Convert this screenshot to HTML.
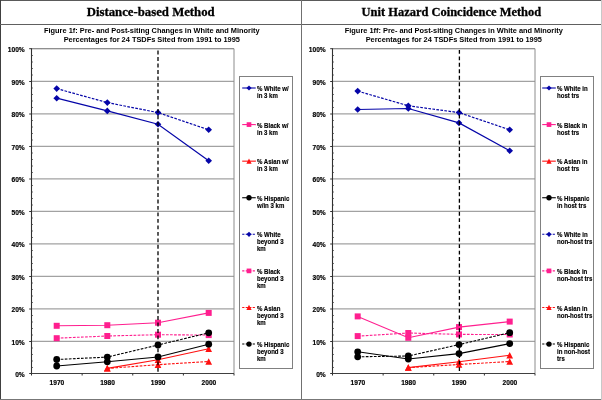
<!DOCTYPE html>
<html><head><meta charset="utf-8"><style>
html,body{margin:0;padding:0;background:#fff;}
svg{display:block;will-change:transform;}
.ti{font-family:"Liberation Serif",serif;font-weight:bold;font-size:12.8px;fill:#000;stroke:#000;stroke-width:0.3px;}
.ct{font-family:"Liberation Sans",sans-serif;font-weight:bold;font-size:7.4px;fill:#000;}
.ax{font-family:"Liberation Sans",sans-serif;font-weight:bold;font-size:6.9px;fill:#000;stroke:#000;stroke-width:0.18px;}
.lg{font-family:"Liberation Sans",sans-serif;font-weight:bold;font-size:6.6px;fill:#000;stroke:#000;stroke-width:0.15px;}
</style></head><body>
<svg width="602" height="400" viewBox="0 0 602 400">
<rect width="602" height="400" fill="#fff"/>

<text x="150.7" y="16" text-anchor="middle" class="ti" textLength="128" lengthAdjust="spacingAndGlyphs">Distance-based Method</text>
<text x="451.4" y="16" text-anchor="middle" class="ti" textLength="179.6" lengthAdjust="spacingAndGlyphs">Unit Hazard Coincidence Method</text>

<line x1="31.5" y1="341.40" x2="234.0" y2="341.40" stroke="#a2a2a2" stroke-width="1.35"/>
<line x1="31.5" y1="308.90" x2="234.0" y2="308.90" stroke="#a2a2a2" stroke-width="1.35"/>
<line x1="31.5" y1="276.40" x2="234.0" y2="276.40" stroke="#a2a2a2" stroke-width="1.35"/>
<line x1="31.5" y1="243.90" x2="234.0" y2="243.90" stroke="#a2a2a2" stroke-width="1.35"/>
<line x1="31.5" y1="211.40" x2="234.0" y2="211.40" stroke="#a2a2a2" stroke-width="1.35"/>
<line x1="31.5" y1="178.90" x2="234.0" y2="178.90" stroke="#a2a2a2" stroke-width="1.35"/>
<line x1="31.5" y1="146.40" x2="234.0" y2="146.40" stroke="#a2a2a2" stroke-width="1.35"/>
<line x1="31.5" y1="113.90" x2="234.0" y2="113.90" stroke="#a2a2a2" stroke-width="1.35"/>
<line x1="31.5" y1="81.40" x2="234.0" y2="81.40" stroke="#a2a2a2" stroke-width="1.35"/>
<line x1="31.5" y1="48.7" x2="234.0" y2="48.7" stroke="#6a6a6a" stroke-width="1.1"/>
<line x1="234.0" y1="48.7" x2="234.0" y2="373.5" stroke="#8c8c8c" stroke-width="1"/>
<line x1="31.5" y1="48.2" x2="31.5" y2="374.0" stroke="#303030" stroke-width="1.1"/>
<line x1="29.2" y1="373.5" x2="31.5" y2="373.5" stroke="#303030" stroke-width="1"/>
<line x1="29.2" y1="341.5" x2="31.5" y2="341.5" stroke="#303030" stroke-width="1"/>
<line x1="29.2" y1="309.0" x2="31.5" y2="309.0" stroke="#303030" stroke-width="1"/>
<line x1="29.2" y1="276.5" x2="31.5" y2="276.5" stroke="#303030" stroke-width="1"/>
<line x1="29.2" y1="244.0" x2="31.5" y2="244.0" stroke="#303030" stroke-width="1"/>
<line x1="29.2" y1="211.5" x2="31.5" y2="211.5" stroke="#303030" stroke-width="1"/>
<line x1="29.2" y1="179.0" x2="31.5" y2="179.0" stroke="#303030" stroke-width="1"/>
<line x1="29.2" y1="146.5" x2="31.5" y2="146.5" stroke="#303030" stroke-width="1"/>
<line x1="29.2" y1="114.0" x2="31.5" y2="114.0" stroke="#303030" stroke-width="1"/>
<line x1="29.2" y1="81.5" x2="31.5" y2="81.5" stroke="#303030" stroke-width="1"/>
<line x1="29.2" y1="48.7" x2="31.5" y2="48.7" stroke="#303030" stroke-width="1"/>
<line x1="31.5" y1="367.5" x2="32.8" y2="367.5" stroke="#404040" stroke-width="0.9"/>
<line x1="31.5" y1="361.0" x2="32.8" y2="361.0" stroke="#404040" stroke-width="0.9"/>
<line x1="31.5" y1="354.5" x2="32.8" y2="354.5" stroke="#404040" stroke-width="0.9"/>
<line x1="31.5" y1="348.0" x2="32.8" y2="348.0" stroke="#404040" stroke-width="0.9"/>
<line x1="31.5" y1="335.0" x2="32.8" y2="335.0" stroke="#404040" stroke-width="0.9"/>
<line x1="31.5" y1="328.5" x2="32.8" y2="328.5" stroke="#404040" stroke-width="0.9"/>
<line x1="31.5" y1="322.0" x2="32.8" y2="322.0" stroke="#404040" stroke-width="0.9"/>
<line x1="31.5" y1="315.5" x2="32.8" y2="315.5" stroke="#404040" stroke-width="0.9"/>
<line x1="31.5" y1="302.5" x2="32.8" y2="302.5" stroke="#404040" stroke-width="0.9"/>
<line x1="31.5" y1="296.0" x2="32.8" y2="296.0" stroke="#404040" stroke-width="0.9"/>
<line x1="31.5" y1="289.5" x2="32.8" y2="289.5" stroke="#404040" stroke-width="0.9"/>
<line x1="31.5" y1="283.0" x2="32.8" y2="283.0" stroke="#404040" stroke-width="0.9"/>
<line x1="31.5" y1="270.0" x2="32.8" y2="270.0" stroke="#404040" stroke-width="0.9"/>
<line x1="31.5" y1="263.5" x2="32.8" y2="263.5" stroke="#404040" stroke-width="0.9"/>
<line x1="31.5" y1="257.0" x2="32.8" y2="257.0" stroke="#404040" stroke-width="0.9"/>
<line x1="31.5" y1="250.5" x2="32.8" y2="250.5" stroke="#404040" stroke-width="0.9"/>
<line x1="31.5" y1="237.5" x2="32.8" y2="237.5" stroke="#404040" stroke-width="0.9"/>
<line x1="31.5" y1="231.0" x2="32.8" y2="231.0" stroke="#404040" stroke-width="0.9"/>
<line x1="31.5" y1="224.5" x2="32.8" y2="224.5" stroke="#404040" stroke-width="0.9"/>
<line x1="31.5" y1="218.0" x2="32.8" y2="218.0" stroke="#404040" stroke-width="0.9"/>
<line x1="31.5" y1="205.0" x2="32.8" y2="205.0" stroke="#404040" stroke-width="0.9"/>
<line x1="31.5" y1="198.5" x2="32.8" y2="198.5" stroke="#404040" stroke-width="0.9"/>
<line x1="31.5" y1="192.0" x2="32.8" y2="192.0" stroke="#404040" stroke-width="0.9"/>
<line x1="31.5" y1="185.5" x2="32.8" y2="185.5" stroke="#404040" stroke-width="0.9"/>
<line x1="31.5" y1="172.5" x2="32.8" y2="172.5" stroke="#404040" stroke-width="0.9"/>
<line x1="31.5" y1="166.0" x2="32.8" y2="166.0" stroke="#404040" stroke-width="0.9"/>
<line x1="31.5" y1="159.5" x2="32.8" y2="159.5" stroke="#404040" stroke-width="0.9"/>
<line x1="31.5" y1="153.0" x2="32.8" y2="153.0" stroke="#404040" stroke-width="0.9"/>
<line x1="31.5" y1="140.0" x2="32.8" y2="140.0" stroke="#404040" stroke-width="0.9"/>
<line x1="31.5" y1="133.5" x2="32.8" y2="133.5" stroke="#404040" stroke-width="0.9"/>
<line x1="31.5" y1="127.0" x2="32.8" y2="127.0" stroke="#404040" stroke-width="0.9"/>
<line x1="31.5" y1="120.5" x2="32.8" y2="120.5" stroke="#404040" stroke-width="0.9"/>
<line x1="31.5" y1="107.5" x2="32.8" y2="107.5" stroke="#404040" stroke-width="0.9"/>
<line x1="31.5" y1="101.0" x2="32.8" y2="101.0" stroke="#404040" stroke-width="0.9"/>
<line x1="31.5" y1="94.5" x2="32.8" y2="94.5" stroke="#404040" stroke-width="0.9"/>
<line x1="31.5" y1="88.0" x2="32.8" y2="88.0" stroke="#404040" stroke-width="0.9"/>
<line x1="31.5" y1="75.0" x2="32.8" y2="75.0" stroke="#404040" stroke-width="0.9"/>
<line x1="31.5" y1="68.5" x2="32.8" y2="68.5" stroke="#404040" stroke-width="0.9"/>
<line x1="31.5" y1="62.0" x2="32.8" y2="62.0" stroke="#404040" stroke-width="0.9"/>
<line x1="31.5" y1="55.5" x2="32.8" y2="55.5" stroke="#404040" stroke-width="0.9"/>
<line x1="31.0" y1="373.5" x2="234.0" y2="373.5" stroke="#404040" stroke-width="1.0"/>
<line x1="31.5" y1="373.5" x2="31.5" y2="375.5" stroke="#303030" stroke-width="1"/>
<line x1="82.125" y1="373.5" x2="82.125" y2="375.5" stroke="#303030" stroke-width="1"/>
<line x1="132.75" y1="373.5" x2="132.75" y2="375.5" stroke="#303030" stroke-width="1"/>
<line x1="183.375" y1="373.5" x2="183.375" y2="375.5" stroke="#303030" stroke-width="1"/>
<line x1="234.0" y1="373.5" x2="234.0" y2="375.5" stroke="#303030" stroke-width="1"/>
<text transform="translate(24.7 377.00) scale(0.96 1)" text-anchor="end" class="ax">0%</text>
<text transform="translate(24.7 344.50) scale(0.96 1)" text-anchor="end" class="ax">10%</text>
<text transform="translate(24.7 312.00) scale(0.96 1)" text-anchor="end" class="ax">20%</text>
<text transform="translate(24.7 279.50) scale(0.96 1)" text-anchor="end" class="ax">30%</text>
<text transform="translate(24.7 247.00) scale(0.96 1)" text-anchor="end" class="ax">40%</text>
<text transform="translate(24.7 214.50) scale(0.96 1)" text-anchor="end" class="ax">50%</text>
<text transform="translate(24.7 182.00) scale(0.96 1)" text-anchor="end" class="ax">60%</text>
<text transform="translate(24.7 149.50) scale(0.96 1)" text-anchor="end" class="ax">70%</text>
<text transform="translate(24.7 117.00) scale(0.96 1)" text-anchor="end" class="ax">80%</text>
<text transform="translate(24.7 84.50) scale(0.96 1)" text-anchor="end" class="ax">90%</text>
<text transform="translate(24.7 52.00) scale(0.96 1)" text-anchor="end" class="ax">100%</text>
<text transform="translate(56.900000000000006 385.0) scale(0.96 1)" text-anchor="middle" class="ax">1970</text>
<text transform="translate(107.5 385.0) scale(0.96 1)" text-anchor="middle" class="ax">1980</text>
<text transform="translate(158.2 385.0) scale(0.96 1)" text-anchor="middle" class="ax">1990</text>
<text transform="translate(208.89999999999998 385.0) scale(0.96 1)" text-anchor="middle" class="ax">2000</text>
<path d="M56.70 98.20 L107.30 110.90 L158.00 124.20 L208.70 160.70" fill="none" stroke="#0505a8" stroke-width="1.2"/>
<path d="M56.70 94.90L60.00 98.20L56.70 101.50L53.40 98.20Z" fill="#0505a8"/>
<path d="M107.30 107.60L110.60 110.90L107.30 114.20L104.00 110.90Z" fill="#0505a8"/>
<path d="M158.00 120.90L161.30 124.20L158.00 127.50L154.70 124.20Z" fill="#0505a8"/>
<path d="M208.70 157.40L212.00 160.70L208.70 164.00L205.40 160.70Z" fill="#0505a8"/>
<path d="M56.70 325.80 L107.30 325.20 L158.00 322.70 L208.70 312.90" fill="none" stroke="#ff1f8f" stroke-width="1.1"/>
<rect x="53.70" y="322.80" width="6.00" height="6.00" fill="#ff1f8f"/>
<rect x="104.30" y="322.20" width="6.00" height="6.00" fill="#ff1f8f"/>
<rect x="155.00" y="319.70" width="6.00" height="6.00" fill="#ff1f8f"/>
<rect x="205.70" y="309.90" width="6.00" height="6.00" fill="#ff1f8f"/>
<path d="M107.30 368.40 L158.00 359.80 L208.70 348.80" fill="none" stroke="#ff1010" stroke-width="1.1"/>
<path d="M107.30 365.05L110.65 371.58L103.95 371.58Z" fill="#ff1010"/>
<path d="M158.00 356.45L161.35 362.98L154.65 362.98Z" fill="#ff1010"/>
<path d="M208.70 345.45L212.05 351.98L205.35 351.98Z" fill="#ff1010"/>
<path d="M56.70 366.00 L107.30 361.80 L158.00 357.00 L208.70 344.20" fill="none" stroke="#000000" stroke-width="1.1"/>
<circle cx="56.70" cy="366.00" r="3.40" fill="#000000"/>
<circle cx="107.30" cy="361.80" r="3.40" fill="#000000"/>
<circle cx="158.00" cy="357.00" r="3.40" fill="#000000"/>
<circle cx="208.70" cy="344.20" r="3.40" fill="#000000"/>
<path d="M56.70 88.60 L107.30 102.60 L158.00 112.60 L208.70 129.80" fill="none" stroke="#0505a8" stroke-width="1.2" stroke-dasharray="2.7,1.35"/>
<path d="M56.70 85.30L60.00 88.60L56.70 91.90L53.40 88.60Z" fill="#0505a8"/>
<path d="M107.30 99.30L110.60 102.60L107.30 105.90L104.00 102.60Z" fill="#0505a8"/>
<path d="M158.00 109.30L161.30 112.60L158.00 115.90L154.70 112.60Z" fill="#0505a8"/>
<path d="M208.70 126.50L212.00 129.80L208.70 133.10L205.40 129.80Z" fill="#0505a8"/>
<path d="M56.70 338.20 L107.30 336.00 L158.00 334.70 L208.70 335.10" fill="none" stroke="#ff1f8f" stroke-width="1.1" stroke-dasharray="2.7,1.35"/>
<rect x="53.70" y="335.20" width="6.00" height="6.00" fill="#ff1f8f"/>
<rect x="104.30" y="333.00" width="6.00" height="6.00" fill="#ff1f8f"/>
<rect x="155.00" y="331.70" width="6.00" height="6.00" fill="#ff1f8f"/>
<rect x="205.70" y="332.10" width="6.00" height="6.00" fill="#ff1f8f"/>
<path d="M107.30 368.40 L158.00 364.70 L208.70 361.50" fill="none" stroke="#ff1010" stroke-width="1.1" stroke-dasharray="2.7,1.35"/>
<path d="M107.30 365.05L110.65 371.58L103.95 371.58Z" fill="#ff1010"/>
<path d="M158.00 361.35L161.35 367.88L154.65 367.88Z" fill="#ff1010"/>
<path d="M208.70 358.15L212.05 364.68L205.35 364.68Z" fill="#ff1010"/>
<path d="M56.70 359.50 L107.30 357.10 L158.00 345.00 L208.70 332.80" fill="none" stroke="#000000" stroke-width="1.1" stroke-dasharray="2.7,1.35"/>
<circle cx="56.70" cy="359.50" r="3.40" fill="#000000"/>
<circle cx="107.30" cy="357.10" r="3.40" fill="#000000"/>
<circle cx="158.00" cy="345.00" r="3.40" fill="#000000"/>
<circle cx="208.70" cy="332.80" r="3.40" fill="#000000"/>
<line x1="158.0" y1="50.6" x2="158.0" y2="372" stroke="#000" stroke-width="1.3" stroke-dasharray="3.85,2.625"/>
<text x="151.8" y="32.8" text-anchor="middle" class="ct">Figure 1f: Pre- and Post-siting Changes in White and Minority</text>
<text x="151.8" y="41.6" text-anchor="middle" class="ct">Percentages for 24 TSDFs Sited from 1991 to 1995</text>
<rect x="239.5" y="76.5" width="53.0" height="292.0" fill="none" stroke="#808080" stroke-width="1"/>
<line x1="242.2" y1="88.0" x2="255.8" y2="88.0" stroke="#0505a8" stroke-width="1.1"/>
<path d="M249.00 85.43L251.57 88.00L249.00 90.57L246.43 88.00Z" fill="#0505a8"/>
<text transform="translate(257 91.05) scale(0.92 1)" class="lg">% White w/</text>
<text transform="translate(257 98.05) scale(0.92 1)" class="lg">in 3 km</text>
<line x1="242.2" y1="124.58" x2="255.8" y2="124.58" stroke="#ff1f8f" stroke-width="1.1"/>
<rect x="246.66" y="122.24" width="4.68" height="4.68" fill="#ff1f8f"/>
<text transform="translate(257 127.63) scale(0.92 1)" class="lg">% Black w/</text>
<text transform="translate(257 134.63) scale(0.92 1)" class="lg">in 3 km</text>
<line x1="242.2" y1="161.16" x2="255.8" y2="161.16" stroke="#ff1010" stroke-width="1.1"/>
<path d="M249.00 158.55L251.61 163.64L246.39 163.64Z" fill="#ff1010"/>
<text transform="translate(257 164.21) scale(0.92 1)" class="lg">% Asian w/</text>
<text transform="translate(257 171.21) scale(0.92 1)" class="lg">in 3 km</text>
<line x1="242.2" y1="197.74" x2="255.8" y2="197.74" stroke="#000000" stroke-width="1.1"/>
<circle cx="249.00" cy="197.74" r="2.65" fill="#000000"/>
<text transform="translate(257 200.79) scale(0.92 1)" class="lg">% Hispanic</text>
<text transform="translate(257 207.79) scale(0.92 1)" class="lg">w/in 3 km</text>
<line x1="242.2" y1="234.32" x2="255.8" y2="234.32" stroke="#0505a8" stroke-width="1.1" stroke-dasharray="2.2,1.3"/>
<path d="M249.00 231.75L251.57 234.32L249.00 236.89L246.43 234.32Z" fill="#0505a8"/>
<text transform="translate(257 237.37) scale(0.92 1)" class="lg">% White</text>
<text transform="translate(257 244.37) scale(0.92 1)" class="lg">beyond 3</text>
<text transform="translate(257 251.37) scale(0.92 1)" class="lg">km</text>
<line x1="242.2" y1="270.9" x2="255.8" y2="270.9" stroke="#ff1f8f" stroke-width="1.1" stroke-dasharray="2.2,1.3"/>
<rect x="246.66" y="268.56" width="4.68" height="4.68" fill="#ff1f8f"/>
<text transform="translate(257 273.95) scale(0.92 1)" class="lg">% Black</text>
<text transform="translate(257 280.95) scale(0.92 1)" class="lg">beyond 3</text>
<text transform="translate(257 287.95) scale(0.92 1)" class="lg">km</text>
<line x1="242.2" y1="307.48" x2="255.8" y2="307.48" stroke="#ff1010" stroke-width="1.1" stroke-dasharray="2.2,1.3"/>
<path d="M249.00 304.87L251.61 309.96L246.39 309.96Z" fill="#ff1010"/>
<text transform="translate(257 310.53) scale(0.92 1)" class="lg">% Asian</text>
<text transform="translate(257 317.53) scale(0.92 1)" class="lg">beyond 3</text>
<text transform="translate(257 324.53) scale(0.92 1)" class="lg">km</text>
<line x1="242.2" y1="344.06" x2="255.8" y2="344.06" stroke="#000000" stroke-width="1.1" stroke-dasharray="2.2,1.3"/>
<circle cx="249.00" cy="344.06" r="2.65" fill="#000000"/>
<text transform="translate(257 347.11) scale(0.92 1)" class="lg">% Hispanic</text>
<text transform="translate(257 354.11) scale(0.92 1)" class="lg">beyond 3</text>
<text transform="translate(257 361.11) scale(0.92 1)" class="lg">km</text><line x1="332.5" y1="341.40" x2="535.0" y2="341.40" stroke="#a2a2a2" stroke-width="1.35"/>
<line x1="332.5" y1="308.90" x2="535.0" y2="308.90" stroke="#a2a2a2" stroke-width="1.35"/>
<line x1="332.5" y1="276.40" x2="535.0" y2="276.40" stroke="#a2a2a2" stroke-width="1.35"/>
<line x1="332.5" y1="243.90" x2="535.0" y2="243.90" stroke="#a2a2a2" stroke-width="1.35"/>
<line x1="332.5" y1="211.40" x2="535.0" y2="211.40" stroke="#a2a2a2" stroke-width="1.35"/>
<line x1="332.5" y1="178.90" x2="535.0" y2="178.90" stroke="#a2a2a2" stroke-width="1.35"/>
<line x1="332.5" y1="146.40" x2="535.0" y2="146.40" stroke="#a2a2a2" stroke-width="1.35"/>
<line x1="332.5" y1="113.90" x2="535.0" y2="113.90" stroke="#a2a2a2" stroke-width="1.35"/>
<line x1="332.5" y1="81.40" x2="535.0" y2="81.40" stroke="#a2a2a2" stroke-width="1.35"/>
<line x1="332.5" y1="48.7" x2="535.0" y2="48.7" stroke="#6a6a6a" stroke-width="1.1"/>
<line x1="535.0" y1="48.7" x2="535.0" y2="373.5" stroke="#8c8c8c" stroke-width="1"/>
<line x1="332.5" y1="48.2" x2="332.5" y2="374.0" stroke="#303030" stroke-width="1.1"/>
<line x1="330.2" y1="373.5" x2="332.5" y2="373.5" stroke="#303030" stroke-width="1"/>
<line x1="330.2" y1="341.5" x2="332.5" y2="341.5" stroke="#303030" stroke-width="1"/>
<line x1="330.2" y1="309.0" x2="332.5" y2="309.0" stroke="#303030" stroke-width="1"/>
<line x1="330.2" y1="276.5" x2="332.5" y2="276.5" stroke="#303030" stroke-width="1"/>
<line x1="330.2" y1="244.0" x2="332.5" y2="244.0" stroke="#303030" stroke-width="1"/>
<line x1="330.2" y1="211.5" x2="332.5" y2="211.5" stroke="#303030" stroke-width="1"/>
<line x1="330.2" y1="179.0" x2="332.5" y2="179.0" stroke="#303030" stroke-width="1"/>
<line x1="330.2" y1="146.5" x2="332.5" y2="146.5" stroke="#303030" stroke-width="1"/>
<line x1="330.2" y1="114.0" x2="332.5" y2="114.0" stroke="#303030" stroke-width="1"/>
<line x1="330.2" y1="81.5" x2="332.5" y2="81.5" stroke="#303030" stroke-width="1"/>
<line x1="330.2" y1="48.7" x2="332.5" y2="48.7" stroke="#303030" stroke-width="1"/>
<line x1="332.5" y1="367.5" x2="333.8" y2="367.5" stroke="#404040" stroke-width="0.9"/>
<line x1="332.5" y1="361.0" x2="333.8" y2="361.0" stroke="#404040" stroke-width="0.9"/>
<line x1="332.5" y1="354.5" x2="333.8" y2="354.5" stroke="#404040" stroke-width="0.9"/>
<line x1="332.5" y1="348.0" x2="333.8" y2="348.0" stroke="#404040" stroke-width="0.9"/>
<line x1="332.5" y1="335.0" x2="333.8" y2="335.0" stroke="#404040" stroke-width="0.9"/>
<line x1="332.5" y1="328.5" x2="333.8" y2="328.5" stroke="#404040" stroke-width="0.9"/>
<line x1="332.5" y1="322.0" x2="333.8" y2="322.0" stroke="#404040" stroke-width="0.9"/>
<line x1="332.5" y1="315.5" x2="333.8" y2="315.5" stroke="#404040" stroke-width="0.9"/>
<line x1="332.5" y1="302.5" x2="333.8" y2="302.5" stroke="#404040" stroke-width="0.9"/>
<line x1="332.5" y1="296.0" x2="333.8" y2="296.0" stroke="#404040" stroke-width="0.9"/>
<line x1="332.5" y1="289.5" x2="333.8" y2="289.5" stroke="#404040" stroke-width="0.9"/>
<line x1="332.5" y1="283.0" x2="333.8" y2="283.0" stroke="#404040" stroke-width="0.9"/>
<line x1="332.5" y1="270.0" x2="333.8" y2="270.0" stroke="#404040" stroke-width="0.9"/>
<line x1="332.5" y1="263.5" x2="333.8" y2="263.5" stroke="#404040" stroke-width="0.9"/>
<line x1="332.5" y1="257.0" x2="333.8" y2="257.0" stroke="#404040" stroke-width="0.9"/>
<line x1="332.5" y1="250.5" x2="333.8" y2="250.5" stroke="#404040" stroke-width="0.9"/>
<line x1="332.5" y1="237.5" x2="333.8" y2="237.5" stroke="#404040" stroke-width="0.9"/>
<line x1="332.5" y1="231.0" x2="333.8" y2="231.0" stroke="#404040" stroke-width="0.9"/>
<line x1="332.5" y1="224.5" x2="333.8" y2="224.5" stroke="#404040" stroke-width="0.9"/>
<line x1="332.5" y1="218.0" x2="333.8" y2="218.0" stroke="#404040" stroke-width="0.9"/>
<line x1="332.5" y1="205.0" x2="333.8" y2="205.0" stroke="#404040" stroke-width="0.9"/>
<line x1="332.5" y1="198.5" x2="333.8" y2="198.5" stroke="#404040" stroke-width="0.9"/>
<line x1="332.5" y1="192.0" x2="333.8" y2="192.0" stroke="#404040" stroke-width="0.9"/>
<line x1="332.5" y1="185.5" x2="333.8" y2="185.5" stroke="#404040" stroke-width="0.9"/>
<line x1="332.5" y1="172.5" x2="333.8" y2="172.5" stroke="#404040" stroke-width="0.9"/>
<line x1="332.5" y1="166.0" x2="333.8" y2="166.0" stroke="#404040" stroke-width="0.9"/>
<line x1="332.5" y1="159.5" x2="333.8" y2="159.5" stroke="#404040" stroke-width="0.9"/>
<line x1="332.5" y1="153.0" x2="333.8" y2="153.0" stroke="#404040" stroke-width="0.9"/>
<line x1="332.5" y1="140.0" x2="333.8" y2="140.0" stroke="#404040" stroke-width="0.9"/>
<line x1="332.5" y1="133.5" x2="333.8" y2="133.5" stroke="#404040" stroke-width="0.9"/>
<line x1="332.5" y1="127.0" x2="333.8" y2="127.0" stroke="#404040" stroke-width="0.9"/>
<line x1="332.5" y1="120.5" x2="333.8" y2="120.5" stroke="#404040" stroke-width="0.9"/>
<line x1="332.5" y1="107.5" x2="333.8" y2="107.5" stroke="#404040" stroke-width="0.9"/>
<line x1="332.5" y1="101.0" x2="333.8" y2="101.0" stroke="#404040" stroke-width="0.9"/>
<line x1="332.5" y1="94.5" x2="333.8" y2="94.5" stroke="#404040" stroke-width="0.9"/>
<line x1="332.5" y1="88.0" x2="333.8" y2="88.0" stroke="#404040" stroke-width="0.9"/>
<line x1="332.5" y1="75.0" x2="333.8" y2="75.0" stroke="#404040" stroke-width="0.9"/>
<line x1="332.5" y1="68.5" x2="333.8" y2="68.5" stroke="#404040" stroke-width="0.9"/>
<line x1="332.5" y1="62.0" x2="333.8" y2="62.0" stroke="#404040" stroke-width="0.9"/>
<line x1="332.5" y1="55.5" x2="333.8" y2="55.5" stroke="#404040" stroke-width="0.9"/>
<line x1="332.0" y1="373.5" x2="535.0" y2="373.5" stroke="#404040" stroke-width="1.0"/>
<line x1="332.5" y1="373.5" x2="332.5" y2="375.5" stroke="#303030" stroke-width="1"/>
<line x1="383.125" y1="373.5" x2="383.125" y2="375.5" stroke="#303030" stroke-width="1"/>
<line x1="433.75" y1="373.5" x2="433.75" y2="375.5" stroke="#303030" stroke-width="1"/>
<line x1="484.375" y1="373.5" x2="484.375" y2="375.5" stroke="#303030" stroke-width="1"/>
<line x1="535.0" y1="373.5" x2="535.0" y2="375.5" stroke="#303030" stroke-width="1"/>
<text transform="translate(325.7 377.00) scale(0.96 1)" text-anchor="end" class="ax">0%</text>
<text transform="translate(325.7 344.50) scale(0.96 1)" text-anchor="end" class="ax">10%</text>
<text transform="translate(325.7 312.00) scale(0.96 1)" text-anchor="end" class="ax">20%</text>
<text transform="translate(325.7 279.50) scale(0.96 1)" text-anchor="end" class="ax">30%</text>
<text transform="translate(325.7 247.00) scale(0.96 1)" text-anchor="end" class="ax">40%</text>
<text transform="translate(325.7 214.50) scale(0.96 1)" text-anchor="end" class="ax">50%</text>
<text transform="translate(325.7 182.00) scale(0.96 1)" text-anchor="end" class="ax">60%</text>
<text transform="translate(325.7 149.50) scale(0.96 1)" text-anchor="end" class="ax">70%</text>
<text transform="translate(325.7 117.00) scale(0.96 1)" text-anchor="end" class="ax">80%</text>
<text transform="translate(325.7 84.50) scale(0.96 1)" text-anchor="end" class="ax">90%</text>
<text transform="translate(325.7 52.00) scale(0.96 1)" text-anchor="end" class="ax">100%</text>
<text transform="translate(357.9 385.0) scale(0.96 1)" text-anchor="middle" class="ax">1970</text>
<text transform="translate(408.5 385.0) scale(0.96 1)" text-anchor="middle" class="ax">1980</text>
<text transform="translate(459.2 385.0) scale(0.96 1)" text-anchor="middle" class="ax">1990</text>
<text transform="translate(509.9 385.0) scale(0.96 1)" text-anchor="middle" class="ax">2000</text>
<path d="M357.70 109.50 L408.30 108.50 L459.00 122.90 L509.70 150.80" fill="none" stroke="#0505a8" stroke-width="1.2"/>
<path d="M357.70 106.20L361.00 109.50L357.70 112.80L354.40 109.50Z" fill="#0505a8"/>
<path d="M408.30 105.20L411.60 108.50L408.30 111.80L405.00 108.50Z" fill="#0505a8"/>
<path d="M459.00 119.60L462.30 122.90L459.00 126.20L455.70 122.90Z" fill="#0505a8"/>
<path d="M509.70 147.50L513.00 150.80L509.70 154.10L506.40 150.80Z" fill="#0505a8"/>
<path d="M357.70 316.40 L408.30 337.80 L459.00 327.10 L509.70 321.60" fill="none" stroke="#ff1f8f" stroke-width="1.1"/>
<rect x="354.70" y="313.40" width="6.00" height="6.00" fill="#ff1f8f"/>
<rect x="405.30" y="334.80" width="6.00" height="6.00" fill="#ff1f8f"/>
<rect x="456.00" y="324.10" width="6.00" height="6.00" fill="#ff1f8f"/>
<rect x="506.70" y="318.60" width="6.00" height="6.00" fill="#ff1f8f"/>
<path d="M408.30 367.60 L459.00 361.80 L509.70 355.30" fill="none" stroke="#ff1010" stroke-width="1.1"/>
<path d="M408.30 364.25L411.65 370.78L404.95 370.78Z" fill="#ff1010"/>
<path d="M459.00 358.45L462.35 364.98L455.65 364.98Z" fill="#ff1010"/>
<path d="M509.70 351.95L513.05 358.48L506.35 358.48Z" fill="#ff1010"/>
<path d="M357.70 351.80 L408.30 359.00 L459.00 353.60 L509.70 343.60" fill="none" stroke="#000000" stroke-width="1.1"/>
<circle cx="357.70" cy="351.80" r="3.40" fill="#000000"/>
<circle cx="408.30" cy="359.00" r="3.40" fill="#000000"/>
<circle cx="459.00" cy="353.60" r="3.40" fill="#000000"/>
<circle cx="509.70" cy="343.60" r="3.40" fill="#000000"/>
<path d="M357.70 91.10 L408.30 105.80 L459.00 112.60 L509.70 129.80" fill="none" stroke="#0505a8" stroke-width="1.2" stroke-dasharray="2.7,1.35"/>
<path d="M357.70 87.80L361.00 91.10L357.70 94.40L354.40 91.10Z" fill="#0505a8"/>
<path d="M408.30 102.50L411.60 105.80L408.30 109.10L405.00 105.80Z" fill="#0505a8"/>
<path d="M459.00 109.30L462.30 112.60L459.00 115.90L455.70 112.60Z" fill="#0505a8"/>
<path d="M509.70 126.50L513.00 129.80L509.70 133.10L506.40 129.80Z" fill="#0505a8"/>
<path d="M357.70 336.10 L408.30 333.00 L459.00 334.40 L509.70 334.50" fill="none" stroke="#ff1f8f" stroke-width="1.1" stroke-dasharray="2.7,1.35"/>
<rect x="354.70" y="333.10" width="6.00" height="6.00" fill="#ff1f8f"/>
<rect x="405.30" y="330.00" width="6.00" height="6.00" fill="#ff1f8f"/>
<rect x="456.00" y="331.40" width="6.00" height="6.00" fill="#ff1f8f"/>
<rect x="506.70" y="331.50" width="6.00" height="6.00" fill="#ff1f8f"/>
<path d="M408.30 367.60 L459.00 364.50 L509.70 361.50" fill="none" stroke="#ff1010" stroke-width="1.1" stroke-dasharray="2.7,1.35"/>
<path d="M408.30 364.25L411.65 370.78L404.95 370.78Z" fill="#ff1010"/>
<path d="M459.00 361.15L462.35 367.68L455.65 367.68Z" fill="#ff1010"/>
<path d="M509.70 358.15L513.05 364.68L506.35 364.68Z" fill="#ff1010"/>
<path d="M357.70 356.80 L408.30 356.00 L459.00 344.60 L509.70 332.70" fill="none" stroke="#000000" stroke-width="1.1" stroke-dasharray="2.7,1.35"/>
<circle cx="357.70" cy="356.80" r="3.40" fill="#000000"/>
<circle cx="408.30" cy="356.00" r="3.40" fill="#000000"/>
<circle cx="459.00" cy="344.60" r="3.40" fill="#000000"/>
<circle cx="509.70" cy="332.70" r="3.40" fill="#000000"/>
<line x1="459.4" y1="49.9" x2="459.4" y2="372" stroke="#000" stroke-width="1.3" stroke-dasharray="3.85,2.625"/>
<text x="453.8" y="32.8" text-anchor="middle" class="ct">Figure 1ff: Pre- and Post-siting Changes in White and Minority</text>
<text x="453.8" y="41.6" text-anchor="middle" class="ct">Percentages for 24 TSDFs Sited from 1991 to 1995</text>
<rect x="540.5" y="76.5" width="53.0" height="292.0" fill="none" stroke="#808080" stroke-width="1"/>
<line x1="542.2" y1="88.0" x2="555.8" y2="88.0" stroke="#0505a8" stroke-width="1.1"/>
<path d="M549.00 85.43L551.57 88.00L549.00 90.57L546.43 88.00Z" fill="#0505a8"/>
<text transform="translate(557 91.05) scale(0.92 1)" class="lg">% White in</text>
<text transform="translate(557 98.05) scale(0.92 1)" class="lg">host trs</text>
<line x1="542.2" y1="124.58" x2="555.8" y2="124.58" stroke="#ff1f8f" stroke-width="1.1"/>
<rect x="546.66" y="122.24" width="4.68" height="4.68" fill="#ff1f8f"/>
<text transform="translate(557 127.63) scale(0.92 1)" class="lg">% Black in</text>
<text transform="translate(557 134.63) scale(0.92 1)" class="lg">host trs</text>
<line x1="542.2" y1="161.16" x2="555.8" y2="161.16" stroke="#ff1010" stroke-width="1.1"/>
<path d="M549.00 158.55L551.61 163.64L546.39 163.64Z" fill="#ff1010"/>
<text transform="translate(557 164.21) scale(0.92 1)" class="lg">% Asian in</text>
<text transform="translate(557 171.21) scale(0.92 1)" class="lg">host trs</text>
<line x1="542.2" y1="197.74" x2="555.8" y2="197.74" stroke="#000000" stroke-width="1.1"/>
<circle cx="549.00" cy="197.74" r="2.65" fill="#000000"/>
<text transform="translate(557 200.79) scale(0.92 1)" class="lg">% Hispanic</text>
<text transform="translate(557 207.79) scale(0.92 1)" class="lg">in host trs</text>
<line x1="542.2" y1="234.32" x2="555.8" y2="234.32" stroke="#0505a8" stroke-width="1.1" stroke-dasharray="2.2,1.3"/>
<path d="M549.00 231.75L551.57 234.32L549.00 236.89L546.43 234.32Z" fill="#0505a8"/>
<text transform="translate(557 237.37) scale(0.92 1)" class="lg">% White in</text>
<text transform="translate(557 244.37) scale(0.92 1)" class="lg">non-host trs</text>
<line x1="542.2" y1="270.9" x2="555.8" y2="270.9" stroke="#ff1f8f" stroke-width="1.1" stroke-dasharray="2.2,1.3"/>
<rect x="546.66" y="268.56" width="4.68" height="4.68" fill="#ff1f8f"/>
<text transform="translate(557 273.95) scale(0.92 1)" class="lg">% Black in</text>
<text transform="translate(557 280.95) scale(0.92 1)" class="lg">non-host trs</text>
<line x1="542.2" y1="307.48" x2="555.8" y2="307.48" stroke="#ff1010" stroke-width="1.1" stroke-dasharray="2.2,1.3"/>
<path d="M549.00 304.87L551.61 309.96L546.39 309.96Z" fill="#ff1010"/>
<text transform="translate(557 310.53) scale(0.92 1)" class="lg">% Asian in</text>
<text transform="translate(557 317.53) scale(0.92 1)" class="lg">non-host trs</text>
<line x1="542.2" y1="344.06" x2="555.8" y2="344.06" stroke="#000000" stroke-width="1.1" stroke-dasharray="2.2,1.3"/>
<circle cx="549.00" cy="344.06" r="2.65" fill="#000000"/>
<text transform="translate(557 347.11) scale(0.92 1)" class="lg">% Hispanic</text>
<text transform="translate(557 354.11) scale(0.92 1)" class="lg">in non-host</text>
<text transform="translate(557 361.11) scale(0.92 1)" class="lg">trs</text>

<line x1="0" y1="0.5" x2="602" y2="0.5" stroke="#5a5a5a" stroke-width="1"/>
<line x1="0.5" y1="0" x2="0.5" y2="400" stroke="#404040" stroke-width="1"/>
<line x1="0" y1="24.5" x2="602" y2="24.5" stroke="#606060" stroke-width="1"/>
<line x1="301.5" y1="0" x2="301.5" y2="400" stroke="#707070" stroke-width="1"/>
<line x1="0" y1="399.5" x2="602" y2="399.5" stroke="#777777" stroke-width="1"/>
<line x1="601.5" y1="0" x2="601.5" y2="400" stroke="#c8c8c8" stroke-width="1"/>

</svg>
</body></html>
